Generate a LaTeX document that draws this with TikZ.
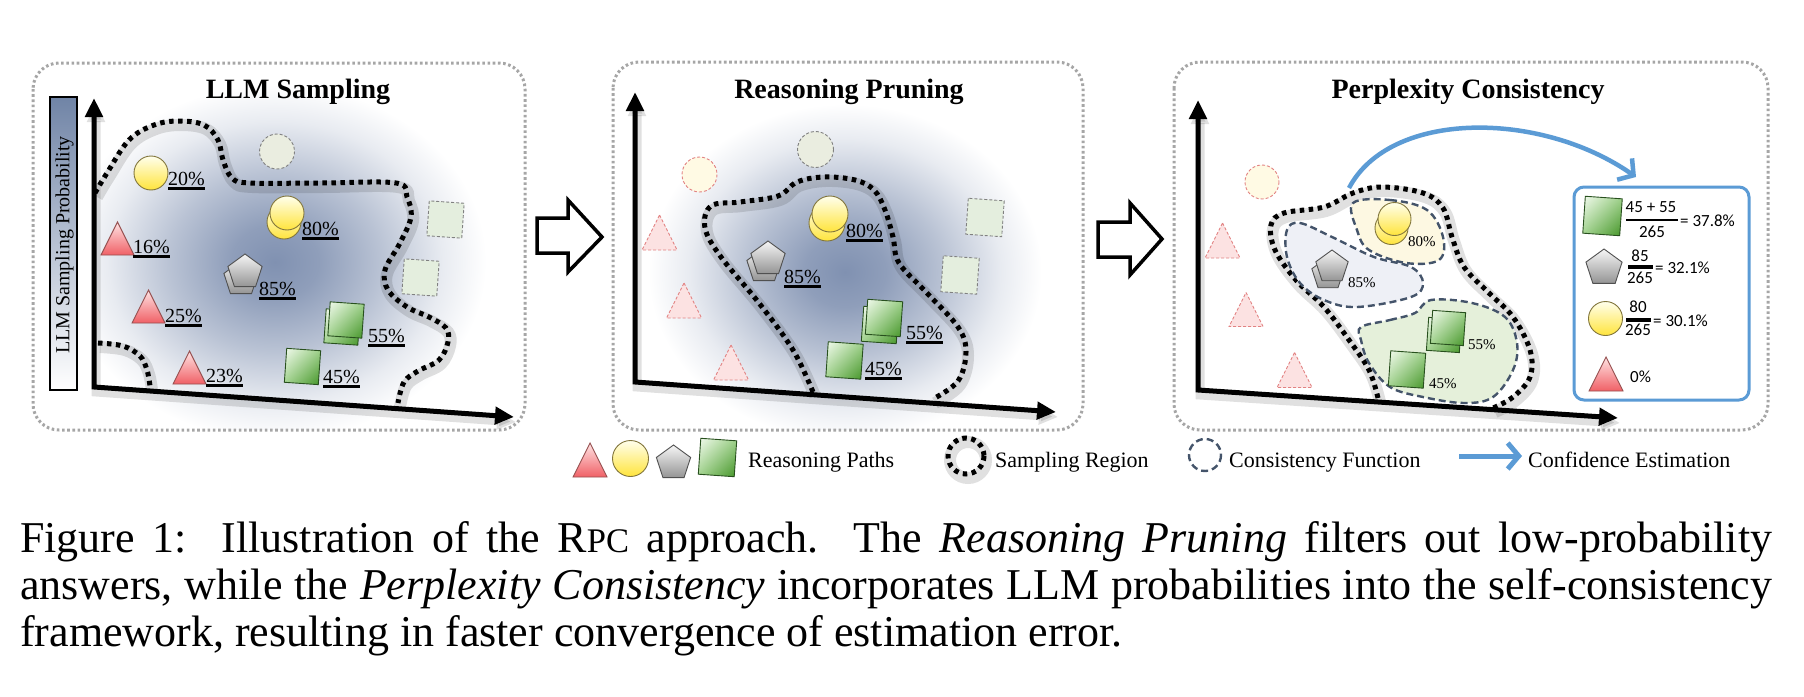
\documentclass[tikz,border=0pt]{standalone}
\usepackage{fontspec}
\setmainfont{Liberation Serif}
\newfontfamily\calfont{Carlito}
\usetikzlibrary{arrows.meta,shadings}
\newcommand\FS[1]{\fontsize{#1}{#1}\selectfont}

\definecolor{glowc}{RGB}{128,145,177}
\definecolor{barc}{RGB}{112,132,166}
\definecolor{bordergray}{RGB}{166,166,166}
\definecolor{triA}{RGB}{255,228,228}
\definecolor{triB}{RGB}{240,96,102}
\definecolor{triD}{RGB}{150,80,80}
\definecolor{cirA}{RGB}{255,255,236}
\definecolor{cirB}{RGB}{255,228,60}
\definecolor{cirD}{RGB}{130,118,60}
\definecolor{penA}{RGB}{246,246,246}
\definecolor{penB}{RGB}{148,148,148}
\definecolor{penD}{RGB}{80,80,80}
\definecolor{sqA}{RGB}{242,250,238}
\definecolor{sqB}{RGB}{160,210,140}
\definecolor{sqC}{RGB}{68,148,40}
\definecolor{sqD}{RGB}{40,80,30}
\definecolor{slate}{RGB}{68,84,106}
\definecolor{msblue}{RGB}{91,155,213}
\definecolor{ftriF}{RGB}{252,226,226}
\definecolor{ftriD}{RGB}{226,130,130}
\definecolor{fcirGF}{RGB}{234,237,224}
\definecolor{fcirRF}{RGB}{255,250,228}
\definecolor{fsqF}{RGB}{228,238,222}
\definecolor{consG}{RGB}{238,240,246}
\definecolor{consY}{RGB}{253,248,226}
\definecolor{consN}{RGB}{229,240,218}

\pgfdeclareradialshading{glowshade}{\pgfpoint{0bp}{0bp}}{color(0bp)=(glowc); color(5bp)=(glowc!88!white); color(12bp)=(glowc!55!white); color(19bp)=(glowc!18!white); color(24bp)=(white); color(50bp)=(white)}

\tikzset{
 panel/.style={draw=bordergray, line width=3pt, dash pattern=on 2.6pt off 2.6pt, rounded corners=26pt},
 axisline/.style={line width=5pt, line join=miter, {Triangle[length=19pt,width=17pt]}-{Triangle[length=19pt,width=17pt]}, preaction={draw=black, opacity=0.12, line width=9pt, transform canvas={shift={(2pt,-5pt)}}}},
 region/.style={draw=black, line width=5pt, dash pattern=on 4.5pt off 4.5pt, preaction={draw=black, opacity=0.12, line width=12pt, solid, transform canvas={shift={(2pt,-4pt)}}}},
 cons/.style={draw=slate, line width=2.4pt, dash pattern=on 7pt off 4pt},
 tri/.style={top color=triA, bottom color=triB, draw=triD, line width=0.9pt},
 circ/.style={top color=cirA, bottom color=cirB, draw=cirD, line width=0.9pt},
 pent/.style={top color=penA, bottom color=penB, draw=penD, line width=0.9pt},
 sq/.style={upper left=sqA, upper right=sqB, lower left=sqB, lower right=sqC, draw=sqD, line width=0.9pt},
 ftri/.style={fill=ftriF, draw=ftriD, line width=0.9pt, dash pattern=on 3pt off 2pt},
 fcircG/.style={fill=fcirGF, draw=gray, line width=0.9pt, dash pattern=on 3pt off 2pt},
 fcircR/.style={fill=fcirRF, draw=ftriD, line width=0.9pt, dash pattern=on 3pt off 2pt},
 fsq/.style={fill=fsqF, draw=gray, line width=0.9pt, dash pattern=on 3pt off 2pt},
 pct/.style={font=\FS{20}, anchor=base west, inner sep=0pt},
 pcts/.style={font=\FS{15}, anchor=base west, inner sep=0pt},
 ttl/.style={font=\FS{28}\bfseries, anchor=base, inner sep=0pt},
 leg/.style={font=\FS{22}, anchor=base west, inner sep=0pt},
 fracn/.style={font=\calfont\FS{17}, inner sep=0pt},
 fracr/.style={font=\calfont\FS{17}, inner sep=0pt, anchor=west},
 bluearr/.style={draw=msblue, line width=4.5pt, -{Straight Barb[length=11pt,width=26pt]}},
 hollow/.style={draw=black, line width=3.5pt, line join=miter, fill=white},
}

\newcommand\RTri[4][tri]{\path[#1,shift={(#2,#3)}] (0,-#4/2) -- (#4/2,#4/2) -- (-#4/2,#4/2) -- cycle;}
\newcommand\YCirc[4][circ]{\path[#1] (#2,#3) circle [radius=#4];}
\newcommand\GPent[4][pent]{\path[#1,shift={(#2,#3)}] (270:#4) -- (342:#4) -- (54:#4) -- (126:#4) -- (198:#4) -- cycle;}
\newcommand\GSq[4][sq]{\path[#1,shift={(#2,#3)},rotate=-4] (-#4/2,-#4/2) rectangle (#4/2,#4/2);}
\newcommand\Pct[4]{\node[pct] (#1) at (#2,#3) {#4}; \draw[line width=2.2pt] ([yshift=-3.5pt]#1.base west) -- ([yshift=-3.5pt]#1.base east);}

\begin{document}
\begin{tikzpicture}[x=1pt,y=-1pt]
\useasboundingbox (0,0) rectangle (1804,696);
\fill[white] (0,0) rectangle (1804,696);

% glows
\begin{scope}
\clip (96,64) rectangle (524,429);
\shade[shading=glowshade] (275,262) ellipse [x radius=220, y radius=185];
\end{scope}
\begin{scope}
\clip (637,64) rectangle (1082,429);
\shade[shading=glowshade] (845,272) ellipse [x radius=205, y radius=175];
\end{scope}

% panels
\draw[panel] (33,63) rectangle (525,430);
\draw[panel] (613,62) rectangle (1083,430);
\draw[panel] (1174,62) rectangle (1768,430);

% titles
\node[ttl] (t1) at (298,98) {LLM Sampling};
\node[ttl] (t2) at (849,98) {Reasoning Pruning};
\node[ttl] (t3) at (1468,98) {Perplexity Consistency};

% probability bar
\shade[top color=barc, bottom color=white] (50,97) rectangle (77,390);
\draw[line width=2pt] (50,97) rectangle (77,390);
\node[rotate=90, font=\FS{20}, inner sep=0pt] (barlbl) at (64.5,245) {LLM Sampling Probability};

% ---------- panel 1 ----------
\draw[region] plot[smooth, tension=0.6] coordinates {(95,193) (107,173) (129,140) (154,125) (179,121) (204,125) (218,140) (223,160) (232,178) (250,183) (321,183) (396,183) (407,197) (411,217) (400,243) (385,270) (388,290) (407,307) (429,317) (446,328) (448,342) (439,360) (418,371) (404,382) (398,403)};
\draw[region] plot[smooth, tension=0.6] coordinates {(98,343) (123,346) (140,356) (147,370) (150,386)};
\draw[axisline] (94,98) -- (94,387) -- (514,417);

\YCirc[fcircG]{277}{151.5}{17.5}
\GSq[fsq]{445.5}{219.5}{35}
\GSq[fsq]{420.5}{277.5}{35}
\YCirc{151}{173}{17}
\Pct{pa1}{168}{185}{20\%}
\RTri{117.5}{238.5}{33}
\Pct{pa2}{133}{253}{16\%}
\RTri{148.5}{306.5}{33}
\Pct{pa3}{165}{322}{25\%}
\RTri{189.5}{367.5}{33}
\Pct{pa4}{206}{382}{23\%}
\YCirc{284}{222}{17}\YCirc{287}{213}{17}
\Pct{pa5}{302}{235}{80\%}
\GPent{241}{279}{18}\GPent{245}{272}{18}
\Pct{pa6}{259}{295}{85\%}
\GSq{342}{327}{34}\GSq{346}{320}{34}
\Pct{pa7}{368}{342}{55\%}
\GSq{302.5}{366.5}{34}
\Pct{pa8}{323}{383}{45\%}

% hollow arrow 1
\draw[hollow] (537,218) -- (568,218) -- (568,200) -- (602,237) -- (568,272) -- (568,253) -- (537,253) -- cycle;

% ---------- panel 2 ----------
\draw[region] plot[smooth, tension=0.6] coordinates {(813,392) (793,350) (759,303) (721,257) (705,228) (711,206) (740,202) (778,196) (797,182) (824,177) (855,180) (874,190) (885,210) (893,237) (899,263) (927,293) (958,327) (966,352) (958,381) (933,399)};
\draw[axisline] (635,92) -- (635,382) -- (1056,412);

\YCirc[fcircG]{815.5}{149.5}{18}
\YCirc[fcircR]{699.5}{174.5}{17.5}
\RTri[ftri]{659.5}{232.5}{35}
\RTri[ftri]{684}{300.5}{35}
\RTri[ftri]{731}{362.5}{35}
\GSq[fsq]{985}{217.5}{36}
\GSq[fsq]{960}{275}{36}
\YCirc{827}{223}{18}\YCirc{830}{214}{18}
\Pct{pb1}{846}{237}{80\%}
\GPent{764}{266}{18}\GPent{768}{259}{18}
\Pct{pb2}{784}{283}{85\%}
\GSq{880}{325}{35}\GSq{884}{318}{35}
\Pct{pb3}{906}{339}{55\%}
\GSq{844.5}{360.5}{35}
\Pct{pb4}{865}{375}{45\%}

% hollow arrow 2
\draw[hollow] (1098,222) -- (1130,222) -- (1130,203) -- (1162,239) -- (1130,275) -- (1130,257) -- (1098,257) -- cycle;

% ---------- panel 3 ----------
\draw[region] plot[smooth, tension=0.6] coordinates {(1378,398) (1369,370) (1349,340) (1324,307) (1296,280) (1275,250) (1271,225) (1284,213) (1324,207) (1353,193) (1382,187) (1423,193) (1443,208) (1452,237) (1464,267) (1489,293) (1513,317) (1530,350) (1530,377) (1513,397) (1493,408)};
\path[cons, fill=consG] plot[smooth cycle, tension=0.6] coordinates {(1287,230) (1300,223) (1332,237) (1374,257) (1411,267) (1423,283) (1411,297) (1357,307) (1324,300) (1300,283) (1287,257)};
\path[cons, fill=consY] plot[smooth cycle, tension=0.6] coordinates {(1353,203) (1390,200) (1427,210) (1443,237) (1439,260) (1406,263) (1369,250) (1357,230)};
\path[cons, fill=consN] plot[smooth cycle, tension=0.6] coordinates {(1361,327) (1390,320) (1415,313) (1431,300) (1472,303) (1505,317) (1517,343) (1513,370) (1493,397) (1464,403) (1423,397) (1390,387) (1369,363) (1361,340)};
\draw[axisline] (1198,100) -- (1198,390) -- (1618,418);

\YCirc[fcircR]{1262}{182}{17}
\RTri[ftri]{1222.5}{240.5}{35}
\RTri[ftri]{1246}{309.5}{34}
\RTri[ftri]{1294.5}{370}{35}
\YCirc{1391.5}{228}{16.5}\YCirc{1394.5}{219}{16.5}
\node[pcts] (pc1) at (1408,246) {80\%};
\GPent{1328}{274}{17}\GPent{1332}{267}{17}
\node[pcts] (pc2) at (1348,287) {85\%};
\GSq{1444}{335}{33}\GSq{1448}{328}{33}
\node[pcts] (pc3) at (1468,349) {55\%};
\GSq{1407}{369.5}{35}
\node[pcts] (pc4) at (1429,388) {45\%};

% confidence box
\node[draw=msblue, line width=3pt, rounded corners=10pt, minimum width=175pt, minimum height=213pt, inner sep=0pt] (cbox) at (1661.5,293.5) {};
\GSq{1602.5}{216}{37}
\node[fracn] (n1) at (1651,207) {45 + 55};
\draw[line width=2.5pt] (1626,220) -- (1678,220);
\node[fracn] (d1) at (1652,232) {265};
\node[fracr] (e1) at (1680,221) {= 37.8\%};
\GPent{1604}{268}{19}
\node[fracn] (n2) at (1640,256) {85};
\draw[line width=3.5pt] (1628,267) -- (1653,267);
\node[fracn] (d2) at (1640,278) {265};
\node[fracr] (e2) at (1655,268) {= 32.1\%};
\YCirc{1605.5}{318.5}{17}
\node[fracn] (n3) at (1638,307) {80};
\draw[line width=3.5pt] (1626,320) -- (1651,320);
\node[fracn] (d3) at (1638,330) {265};
\node[fracr] (e3) at (1653,321) {= 30.1\%};
\RTri{1606}{374}{34}
\node[fracr] (e4) at (1630,377) {0\%};

% confidence arrow
\coordinate (bstart) at (1349,188);
\coordinate (bend) at (1636,177);
\draw[bluearr] (bstart) .. controls (1390,110) and (1540,110) .. (bend);

% ---------- legend ----------
\RTri{590}{460}{34}
\YCirc{630.5}{458.5}{18}
\GPent{673.5}{463}{18}
\GSq{717.5}{457.5}{36}
\node[leg] (lg1) at (748,467) {Reasoning Paths};
\draw[region] (966,456) circle [radius=18];
\node[leg] (lg2) at (995,467) {Sampling Region};
\draw[cons] (1205,455) circle [radius=16];
\node[leg] (lg3) at (1229,467) {Consistency Function};
\coordinate (la1) at (1459,456);
\coordinate (la2) at (1522,456);
\draw[bluearr, line width=5pt] (la1) -- (la2);
\node[leg] (lg4) at (1528,467) {Confidence Estimation};

% ---------- caption ----------
\node[anchor=base west, inner sep=0pt, font=\FS{44}] (cap1) at (20,552) {\makebox[1752pt][s]{Figure 1:\ \ Illustration of the R{\FS{34.5}PC} approach.\ \ The \textit{Reasoning Pruning} filters out low-probability}};
\node[anchor=base west, inner sep=0pt, font=\FS{44}] (cap2) at (20,599) {\makebox[1752pt][s]{answers, while the \textit{Perplexity Consistency} incorporates LLM probabilities into the self-consistency}};
\node[anchor=base west, inner sep=0pt, font=\FS{44}] (cap3) at (20,646) {framework, resulting in faster convergence of estimation error.};
\end{tikzpicture}
\end{document}
